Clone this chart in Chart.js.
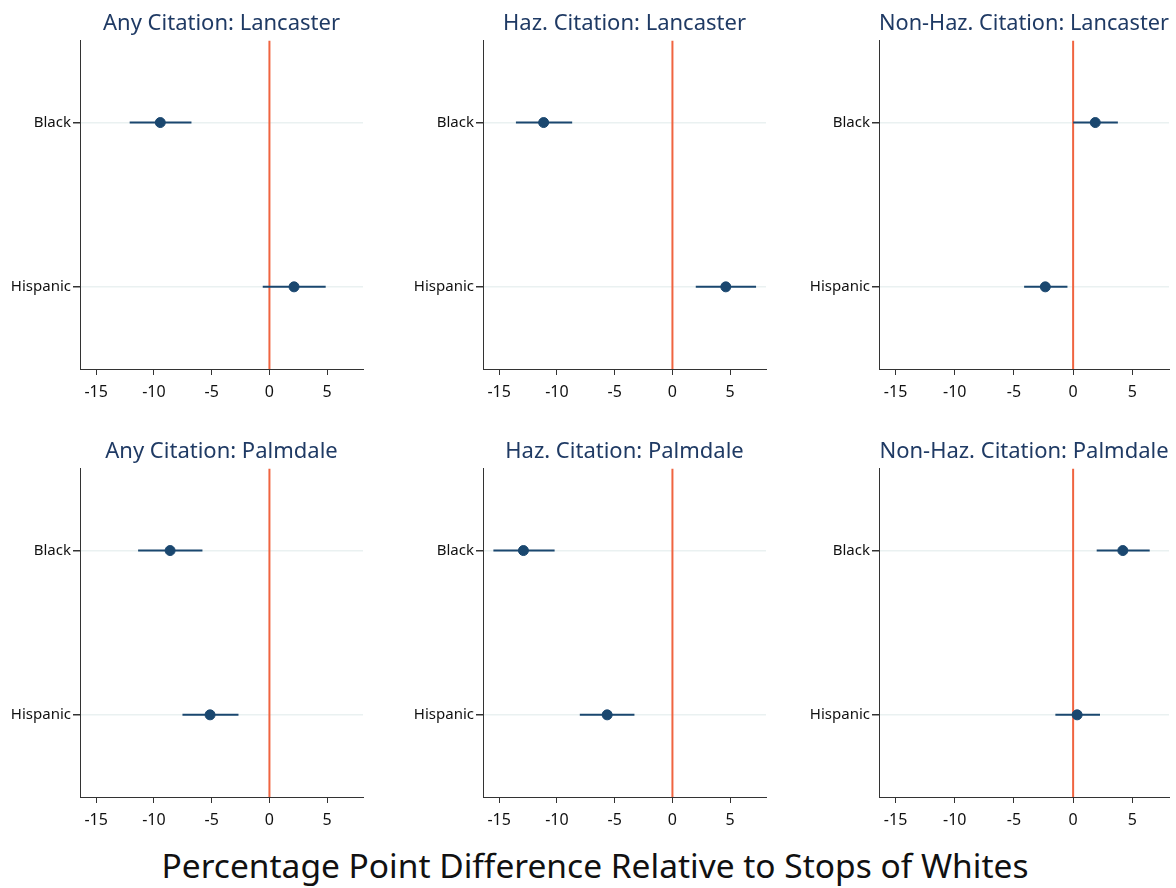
<!DOCTYPE html>
<html>
<head>
<meta charset="utf-8">
<script src="https://cdn.jsdelivr.net/npm/chart.js@4"></script>
<style>
  body { margin: 0; background: #fff; }
  #wrap { position: relative; width: 1176px; height: 888px; overflow: hidden; }
  .panel { position: absolute; }
  #xtitle {
    position: absolute; left: 0; width: 1176px; top: 845px; text-align: center;
    font-family: "Noto Sans", sans-serif; font-size: 33.5px; line-height: 40px; color: #111;
    padding-left: 14px; box-sizing: border-box;
  }
</style>
</head>
<body>
<div id="wrap">
  <div id="xtitle">Percentage Point Difference Relative to Stops of Whites</div>
</div>
<script>
// categories and tick labels
const groups = ["Black", "Hispanic"];
const xTicks = [-15, -10, -5, 0, 5];

// panel titles, row by row
const titles = [
  "Any Citation: Lancaster", "Haz. Citation: Lancaster", "Non-Haz. Citation: Lancaster",
  "Any Citation: Palmdale", "Haz. Citation: Palmdale", "Non-Haz. Citation: Palmdale"
];

// point estimates [Black, Hispanic] per panel
const estimates = [
  [-9.45, 2.13], [-11.15, 4.62], [1.87, -2.35],
  [-8.6, -5.14], [-12.9, -5.65], [4.2, 0.34]
];
// lower and upper 95% bounds [Black, Hispanic] per panel
const lower = [
  [-12.1, -0.58], [-13.55, 2.02], [0.0, -4.14],
  [-11.37, -7.53], [-15.5, -8.02], [1.99, -1.5]
];
const upper = [
  [-6.75, 4.87], [-8.68, 7.24], [3.78, -0.48],
  [-5.8, -2.68], [-10.2, -3.29], [6.47, 2.27]
];

// layout of plot areas (px)
const plotLeft = [80, 483, 879];
const plotRight = [363, 766, 1169];
const plotTop = [41, 469];
const plotBottom = [369, 797];

const navy = "#1a476f";
const red = "#f06440";
const font = "Noto Sans";

const wrap = document.getElementById("wrap");

titles.forEach((title, i) => {
  const col = i % 3, row = Math.floor(i / 3);
  const yAxisW = 80, xAxisH = 40, titleH = 41, padR = 6;
  const w = plotRight[col] - plotLeft[col] + yAxisW + padR;
  const h = plotBottom[row] - plotTop[row] + titleH + xAxisH;

  const box = document.createElement("div");
  box.className = "panel";
  box.style.left = (plotLeft[col] - yAxisW) + "px";
  box.style.top = (plotTop[row] - titleH) + "px";
  box.style.width = w + "px";
  box.style.height = h + "px";
  const canvas = document.createElement("canvas");
  box.appendChild(canvas);
  wrap.appendChild(box);

  const ciSets = groups.map((g, j) => ({
    type: "line",
    data: [{ x: lower[i][j], y: j + 1 }, { x: upper[i][j], y: j + 1 }],
    borderColor: navy,
    borderWidth: 2,
    pointRadius: 0,
    order: 2
  }));

  new Chart(canvas, {
    type: "scatter",
    data: {
      datasets: [
        {
          type: "line",
          data: [{ x: 0, y: 0.5 }, { x: 0, y: 2.5 }],
          borderColor: red,
          borderWidth: 2,
          pointRadius: 0,
          order: 3
        },
        ...ciSets,
        {
          data: groups.map((g, j) => ({ x: estimates[i][j], y: j + 1 })),
          backgroundColor: navy,
          borderColor: navy,
          pointRadius: 5,
          order: 1
        }
      ]
    },
    options: {
      responsive: true,
      maintainAspectRatio: false,
      animation: false,
      events: [],
      layout: { padding: { left: 0, right: padR, top: 0, bottom: 0 } },
      plugins: {
        legend: { display: false },
        tooltip: { enabled: false },
        title: {
          display: true,
          text: title,
          fullSize: false,
          color: "#1f3a64",
          font: { family: font, size: 22, weight: "normal" },
          padding: { top: 11, bottom: 3 }
        }
      },
      scales: {
        x: {
          type: "linear",
          min: -16.4,
          max: 8.1,
          afterBuildTicks: s => { s.ticks = xTicks.map(v => ({ value: v })); },
          afterFit: s => { s.height = xAxisH; },
          border: { display: true, color: "#333", width: 1 },
          grid: { drawOnChartArea: false, drawTicks: true, tickLength: 6, tickColor: "#333" },
          ticks: { color: "#111", padding: 8, font: { family: font, size: 16 } }
        },
        y: {
          type: "linear",
          min: 0.5,
          max: 2.5,
          reverse: true,
          afterBuildTicks: s => { s.ticks = groups.map((g, j) => ({ value: j + 1 })); },
          afterFit: s => { s.width = yAxisW; },
          border: { display: true, color: "#333", width: 1 },
          grid: { color: "#eaf1f1", lineWidth: 1.5, drawTicks: true, tickLength: 7, tickColor: "#333" },
          ticks: {
            color: "#111",
            padding: 2,
            font: { family: font, size: 15 },
            callback: v => groups[v - 1]
          }
        }
      }
    }
  });
});
</script>
</body>
</html>
